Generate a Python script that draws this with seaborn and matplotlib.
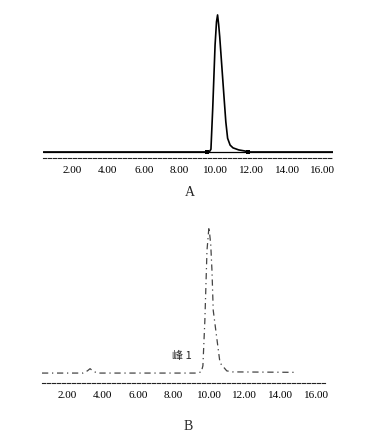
import numpy as np
import pandas as pd
import matplotlib
matplotlib.use("Agg")
import matplotlib.pyplot as plt
import seaborn as sns

# Panel A chromatogram (time in min, relative signal)
time_a = [0.4, 9.5, 9.68, 9.75, 9.85, 9.98, 10.06, 10.12, 10.18, 10.24, 10.36, 10.48, 10.58, 10.68, 10.82, 10.98, 11.3, 11.65, 11.82, 16.56]
signal_a = [0, 0, 0.5, 2, 32, 78, 95, 100, 93, 84, 62, 40, 22, 10, 5, 3, 1.5, 0.7, 0, 0]
markers_a_t = [9.53, 11.82]
markers_a_y = [0, 0]

# Panel B chromatogram
time_b = [0.6, 2.9, 3.15, 3.3, 3.45, 3.7, 9.2, 9.55, 9.64, 9.75, 9.87, 9.98, 10.08, 10.15, 10.22, 10.43, 10.6, 10.98, 11.3, 14.8]
signal_b = [0, 0, 1.5, 3, 1.5, 0, 0, 0.7, 5, 36, 84, 100, 88, 70, 43, 23, 7, 1.5, 0.8, 0.5]
ticks = [2, 4, 6, 8, 10, 12, 14, 16]
tick_labels = ["2.00", "4.00", "6.00", "8.00", "10.00", "12.00", "14.00", "16.00"]

df_a = pd.DataFrame({"t": time_a, "s": signal_a})
df_b = pd.DataFrame({"t": time_b, "s": signal_b})

sns.set_theme(style="white")
plt.rcParams['font.family'] = ['Liberation Serif', 'DejaVu Serif']

fig = plt.figure(figsize=(3.91, 4.42), dpi=100)
W, H = 391, 442

def axes_px(x0, x1, ytop, ybot):
    return fig.add_axes([x0 / W, 1 - ybot / H, (x1 - x0) / W, (ybot - ytop) / H])

ax_a = axes_px(43, 333, 10, 158)
ax_b = axes_px(42, 325, 222, 383)

# Panel A
sns.lineplot(data=df_a, x="t", y="s", ax=ax_a, color="black", linewidth=1.2, sort=False)
ax_a.axhline(0, color="black", linewidth=0.9)
sns.scatterplot(x=markers_a_t, y=markers_a_y, ax=ax_a, color="black", s=6, marker="s", edgecolor="none")
ax_a.set_xlim(0.38, 16.56)
ax_a.set_ylim(-4.4, 103.6)

# Panel B
sns.lineplot(data=df_b, x="t", y="s", ax=ax_b, color="#444444", linewidth=0.9, sort=False,
             linestyle=(0, (5, 3, 1, 3)))
ax_b.set_xlim(0.6, 16.5)
ax_b.set_ylim(-6.8, 103.4)
ax_b.text(9.0, 11.5, "峰 1", family=['Noto Sans CJK SC', 'DejaVu Sans'], fontsize=8, ha="right", va="center")

for ax in (ax_a, ax_b):
    for side in ("top", "left", "right"):
        ax.spines[side].set_visible(False)
    ax.spines["bottom"].set_linestyle((0, (3, 1.5)))
    ax.spines["bottom"].set_linewidth(0.8)
    ax.spines["bottom"].set_color("#222222")
    ax.set_yticks([])
    ax.set_xticks(ticks)
    ax.set_xticklabels(tick_labels, fontsize=8, color="black")
    ax.tick_params(axis="x", length=0, pad=6)
    ax.set_xlabel("")
    ax.set_ylabel("")
    ax.patch.set_alpha(0)

fig.text(190 / W, 1 - 193 / H, "A", ha="center", va="center", fontsize=10)
fig.text(188 / W, 1 - 427 / H, "B", ha="center", va="center", fontsize=10)

fig.savefig("out.png", dpi=100)
